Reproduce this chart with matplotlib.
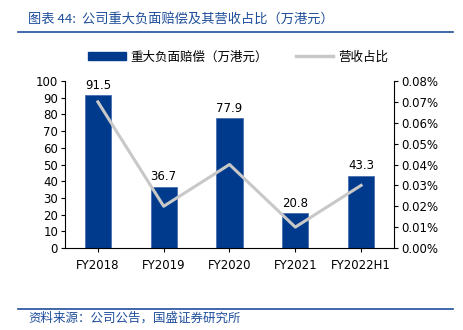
import matplotlib
matplotlib.use("Agg")
import matplotlib.pyplot as plt
from matplotlib.lines import Line2D
from matplotlib.patches import Patch

plt.rcParams['font.family'] = ['DejaVu Sans', 'Noto Sans CJK SC']

categories = ["FY2018", "FY2019", "FY2020", "FY2021", "FY2022H1"]
compensation = [91.5, 36.7, 77.9, 20.8, 43.3]
revenue_share = [0.0007, 0.0002, 0.0004, 0.0001, 0.0003]
left_ticks = list(range(0, 101, 10))
right_ticks = [i / 10000 for i in range(0, 9)]

bar_color = "#003A8C"
line_color = "#C8C8C8"
title_color = "#1F4E9B"
cjk = ['Noto Sans CJK SC', 'DejaVu Sans']

fig = plt.figure(figsize=(4.64, 3.30), dpi=100)
ax = fig.add_axes([65/464, 1-248/330, (394-65)/464, (248-81)/330])
x = list(range(len(categories)))
ax.bar(x, compensation, width=0.4, color=bar_color, edgecolor='#4A6FB0', linewidth=0.6, zorder=2)
for xi, v in zip(x, compensation):
    ax.text(xi, v + 2, f"{v}", ha='center', va='bottom', fontsize=8.5, color='#000000')
ax.set_ylim(0, 100)
ax.set_xlim(-0.5, len(categories) - 0.5)
ax.set_yticks(left_ticks)
ax.set_xticks(x)
ax.set_xticklabels(categories, fontsize=8.5)
ax.tick_params(axis='y', labelsize=8.5, length=3, direction='out', pad=2)
ax.tick_params(axis='x', length=3, direction='out', pad=5)
ax.spines['top'].set_visible(False)
ax.spines['right'].set_visible(False)
for s in ['left', 'bottom']:
    ax.spines[s].set_color('#000000')
    ax.spines[s].set_linewidth(0.8)

ax2 = ax.twinx()
ax2.plot(x, revenue_share, color=line_color, linewidth=2.2, zorder=3)
ax2.set_ylim(0, 0.0008)
ax2.set_yticks(right_ticks)
ax2.set_yticklabels([f"{t*100:.2f}%" for t in right_ticks])
ax2.tick_params(axis='y', labelsize=8.5, length=3, direction='out', pad=2)
ax2.spines['top'].set_visible(False)
ax2.spines['left'].set_visible(False)
ax2.spines['bottom'].set_visible(False)
ax2.spines['right'].set_linewidth(0.8)

handles = [Patch(color=bar_color), Line2D([0], [0], color=line_color, linewidth=2.5)]
labels = ["重大负面赔偿（万港元）", "营收占比"]
fig.legend(handles, labels, loc='center', bbox_to_anchor=(238/464, 1-57/330), ncol=2,
           frameon=False, prop={'family': cjk, 'size': 9}, handlelength=3.0,
           handleheight=0.6, columnspacing=2.2, handletextpad=0.4)

fig.text(28/464, 1-20/330, "图表 44:  公司重大负面赔偿及其营收占比（万港元）", fontsize=9.5,
         color=title_color, family=cjk, style='italic', va='center', ha='left')
fig.add_artist(Line2D([18/464, 453/464], [1-32/330, 1-32/330], color=title_color, linewidth=1.2))
fig.add_artist(Line2D([18/464, 453/464], [1-309/330, 1-309/330], color=title_color, linewidth=1.2))
fig.text(28/464, 1-318/330, "资料来源：公司公告，国盛证券研究所", fontsize=9,
         color=title_color, family=cjk, style='italic', va='center', ha='left')

fig.savefig("out.png", dpi=100)
